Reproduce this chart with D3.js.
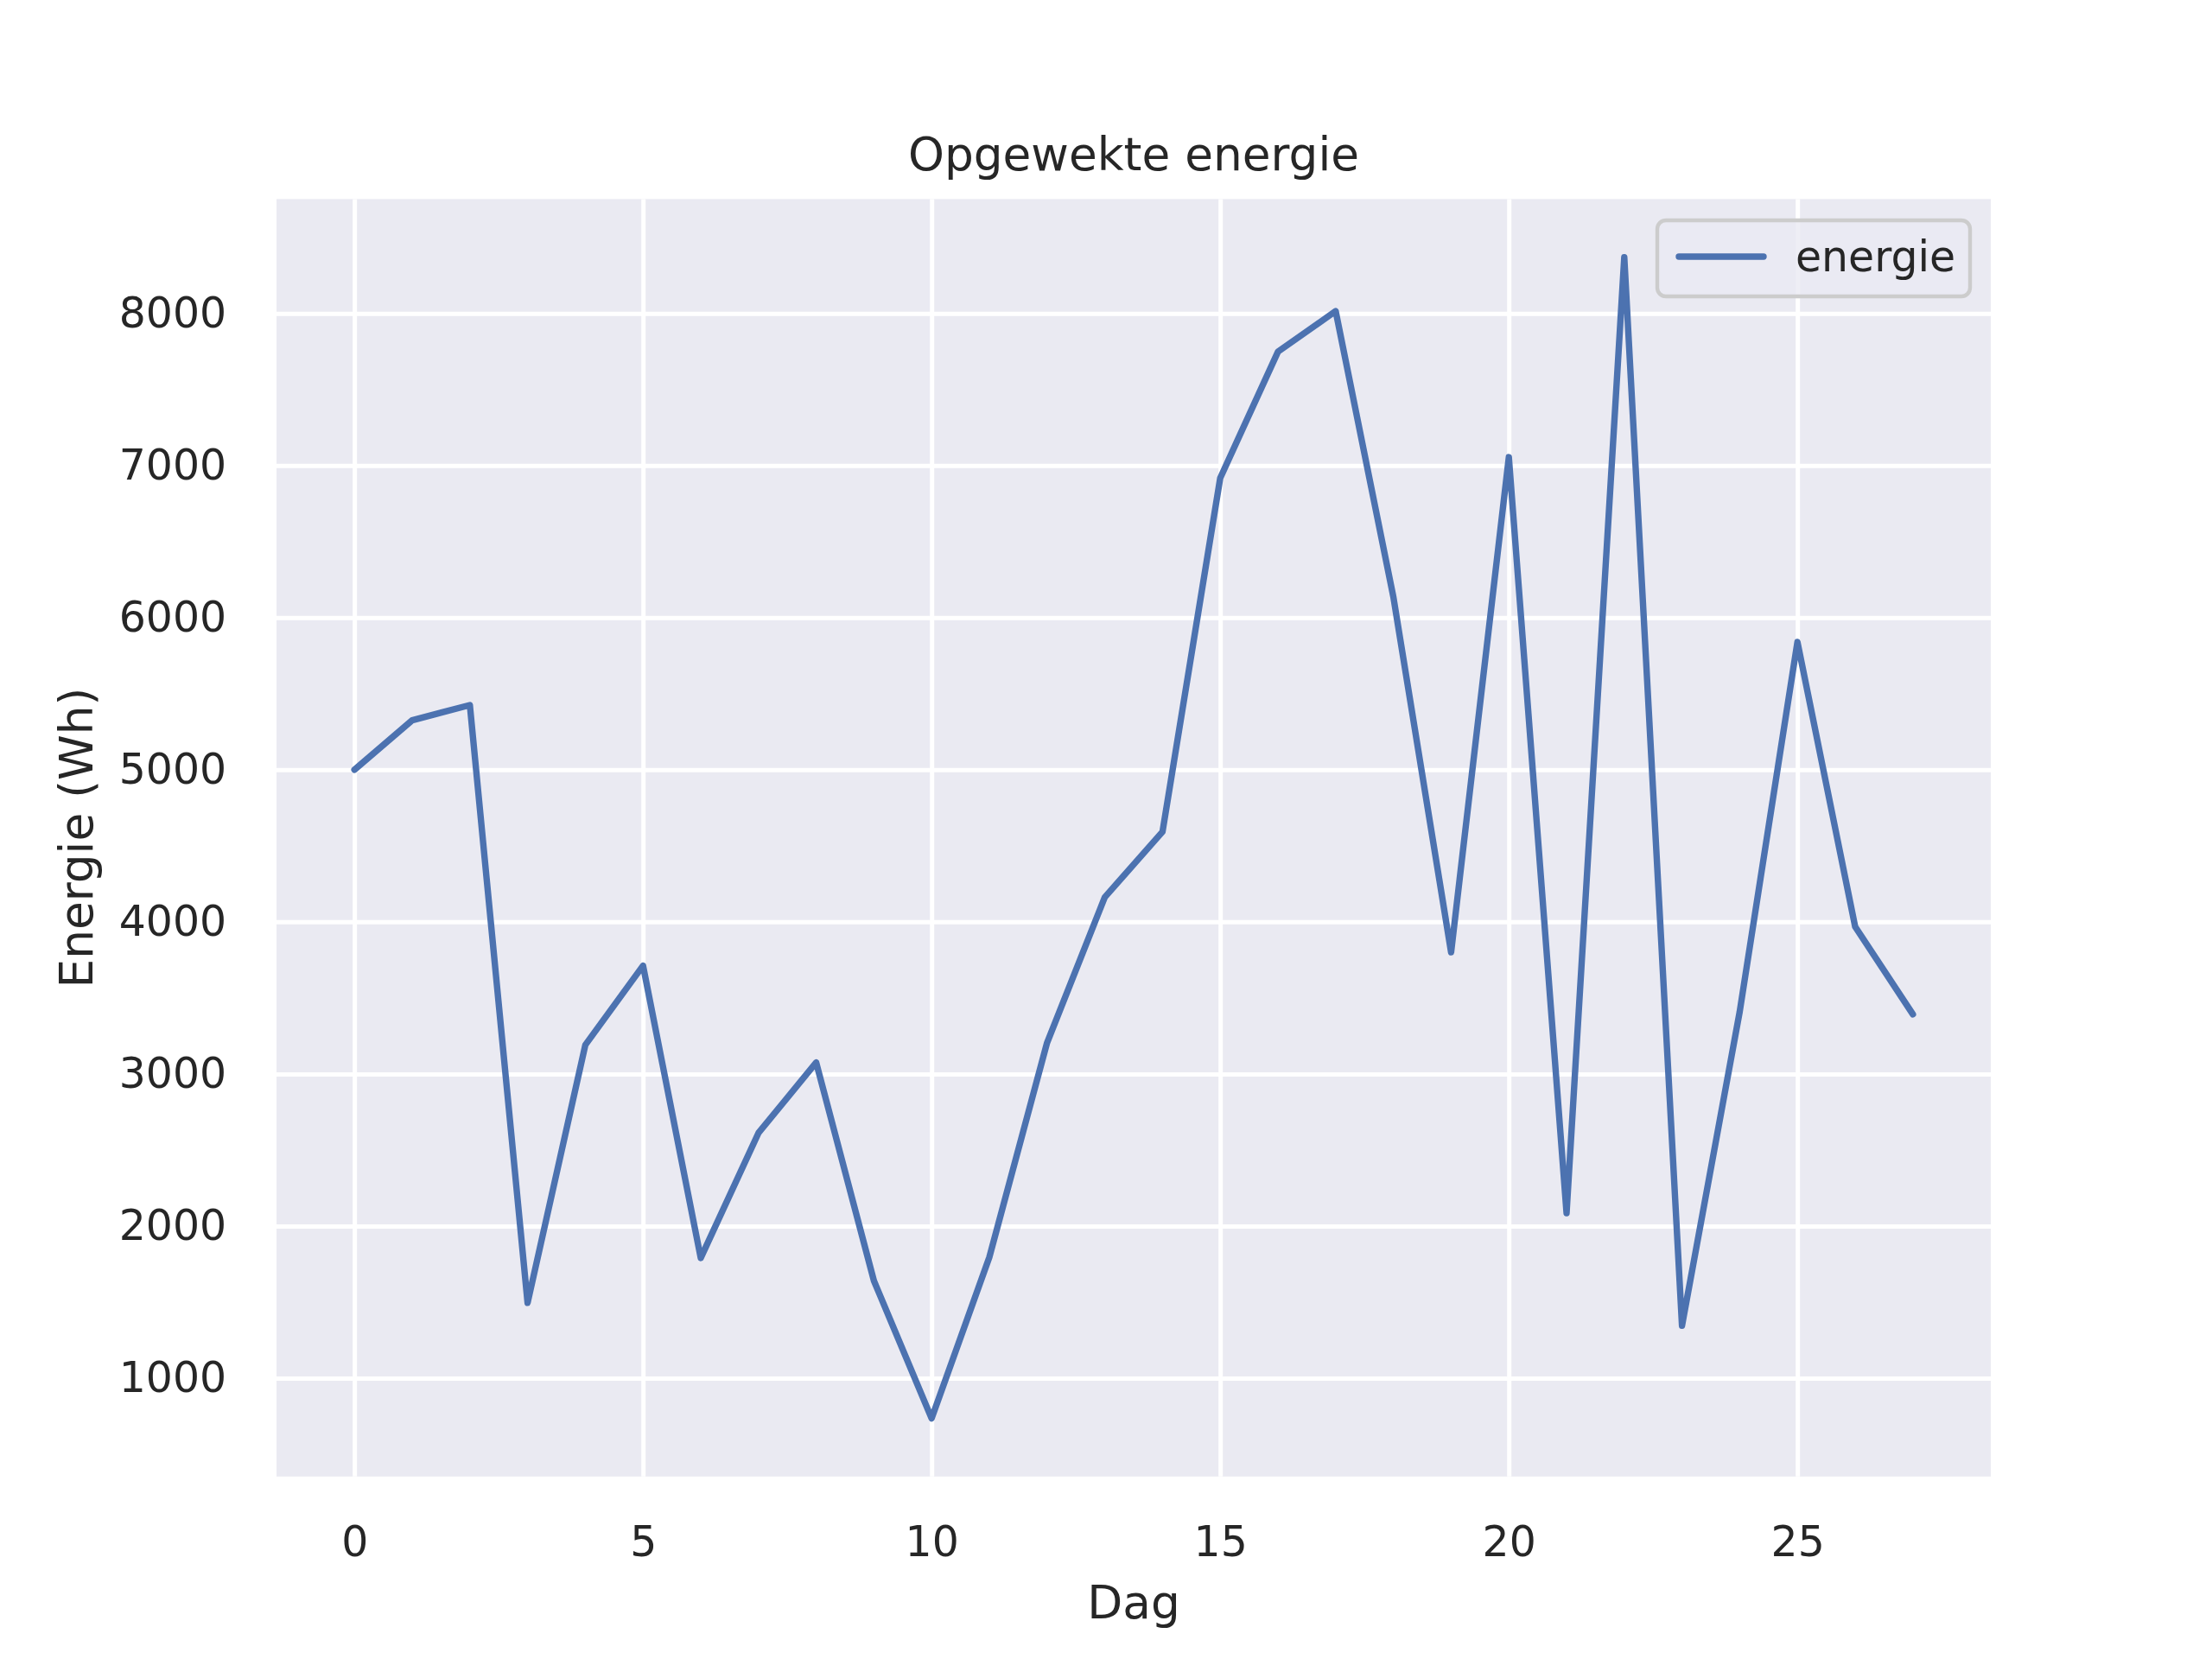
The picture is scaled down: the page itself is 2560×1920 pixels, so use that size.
<!DOCTYPE html>
<html>
<head>
<meta charset="utf-8">
<script src="https://cdn.jsdelivr.net/npm/d3@7"></script>
<style>
  body { margin: 0; background: #ffffff; }
  text { font-family: "DejaVu Sans", sans-serif; fill: #262626; }
</style>
</head>
<body>
<script>
// data
var dagen = d3.range(0, 28);
var energie = [5000, 5325, 5425, 1495, 3190, 3712, 1790, 2612, 3075, 1640,
               735, 1795, 3205, 4162, 4592, 6918, 7748, 8015, 6135, 3800,
               7055, 2085, 8370, 1345, 3410, 5840, 3968, 3392];
var xTicks = [0, 5, 10, 15, 20, 25];
var yTicks = [1000, 2000, 3000, 4000, 5000, 6000, 7000, 8000];
var titel = "Opgewekte energie";
var xLabel = "Dag";
var yLabel = "Energie (Wh)";
var reeksNaam = "energie";

function draw() {
    var w = 2560, h = 1920;
    // matplotlib style subplot position
    var left = 320, right = 2304, top = 230.4, bottom = 1708.8;
    var plotW = right - left, plotH = bottom - top;
    var tickFont = 48.9, labelFont = 53.3;
    var blue = "#4c72b0";

    var svg = d3.select("body")
        .append("svg")
        .attr("width", w)
        .attr("height", h);

    // 5% padding like matplotlib autoscale
    var xr = d3.extent(dagen), yr = d3.extent(energie);
    var xm = (xr[1] - xr[0]) * 0.05, ym = (yr[1] - yr[0]) * 0.05;
    var x = d3.scaleLinear().domain([xr[0] - xm, xr[1] + xm]).range([0, plotW]);
    var y = d3.scaleLinear().domain([yr[0] - ym, yr[1] + ym]).range([plotH, 0]);

    var g = svg.append("g").attr("transform", "translate(" + left + "," + top + ")");

    g.append("rect")
        .attr("width", plotW)
        .attr("height", plotH)
        .attr("fill", "#eaeaf2");

    // axes with gridlines
    var yAxis = g.append("g")
        .call(d3.axisLeft(y).tickValues(yTicks).tickSize(-plotW).tickPadding(57.8)
            .tickFormat(d3.format("d")));
    var xAxis = g.append("g")
        .attr("transform", "translate(0," + plotH + ")")
        .call(d3.axisBottom(x).tickValues(xTicks).tickSize(-plotH).tickPadding(57.8)
            .tickFormat(d3.format("d")));

    [xAxis, yAxis].forEach(function(a) {
        a.select(".domain").remove();
        a.selectAll(".tick line").attr("stroke", "#ffffff").attr("stroke-width", 5);
        a.selectAll(".tick text")
            .attr("fill", "#262626")
            .style("font-family", "DejaVu Sans")
            .style("font-size", tickFont + "px");
    });

    // the line
    var line = d3.line()
        .x(function(d, i) { return x(dagen[i]); })
        .y(function(d) { return y(d); });

    g.append("path")
        .datum(energie)
        .attr("d", line)
        .attr("fill", "none")
        .attr("stroke", blue)
        .attr("stroke-width", 7.4)
        .attr("stroke-linejoin", "round")
        .attr("stroke-linecap", "round");

    // texts
    svg.append("text")
        .attr("x", left + plotW / 2)
        .attr("y", 197)
        .attr("text-anchor", "middle")
        .style("font-size", labelFont + "px")
        .text(titel);

    svg.append("text")
        .attr("x", left + plotW / 2)
        .attr("y", 1873)
        .attr("text-anchor", "middle")
        .style("font-size", labelFont + "px")
        .text(xLabel);

    svg.append("text")
        .attr("transform", "translate(107," + (top + plotH / 2) + ") rotate(-90)")
        .attr("text-anchor", "middle")
        .style("font-size", labelFont + "px")
        .text(yLabel);

    // legend
    var leg = svg.append("g").attr("transform", "translate(1918,255)");
    leg.append("rect")
        .attr("width", 362)
        .attr("height", 88)
        .attr("rx", 10)
        .attr("fill", "#eaeaf2")
        .attr("fill-opacity", 0.8)
        .attr("stroke", "#cccccc")
        .attr("stroke-width", 4.4);
    leg.append("line")
        .attr("x1", 25).attr("x2", 123)
        .attr("y1", 42).attr("y2", 42)
        .attr("stroke", blue)
        .attr("stroke-width", 7.4)
        .attr("stroke-linecap", "round");
    leg.append("text")
        .attr("x", 160)
        .attr("y", 59)
        .style("font-size", tickFont + "px")
        .text(reeksNaam);
}

window.onload = draw;
</script>
</body>
</html>
